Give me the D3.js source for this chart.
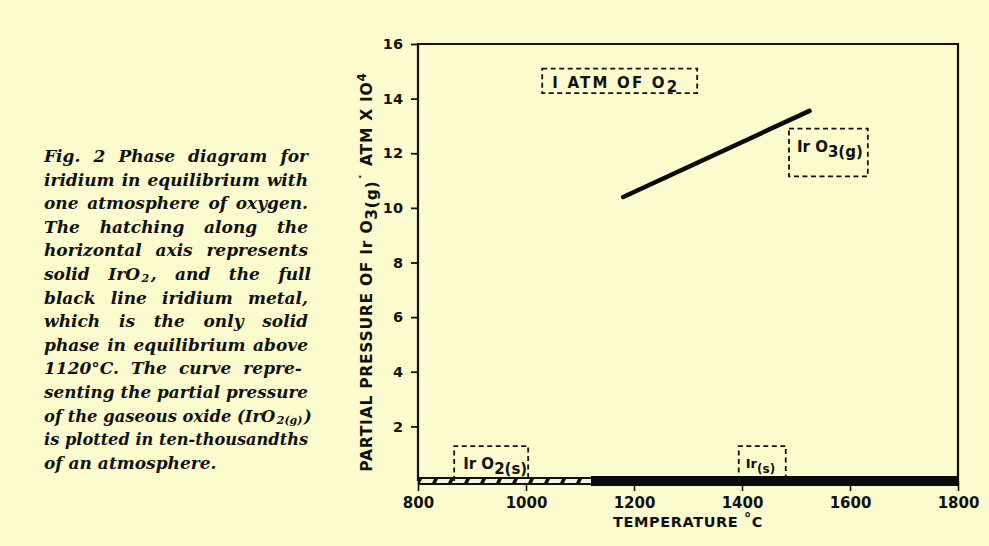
<!DOCTYPE html>
<html><head><meta charset="utf-8">
<script src="https://cdn.jsdelivr.net/npm/d3@7"></script>
<style>
html,body{margin:0;padding:0;background:#fcfbcd;}
svg{display:block;}
</style></head>
<body>
<script>
// ---- data ----
const xTicks = [800, 1000, 1200, 1400, 1600, 1800];
const yTicks = [2, 4, 6, 8, 10, 12, 14, 16];
const curveTemp = [1180, 1525];
const curvePressure = [10.4, 13.55];
const phaseLabels = ["IrO2(s)", "Ir(s)"];
const phaseStart = [800, 1120];
const phaseEnd = [1120, 1800];
// label boxes (data units): temperature range and pressure range
const boxNames = ["atm", "gas", "oxide", "metal"];
const boxT0 = [1030, 1487, 867, 1394];
const boxT1 = [1317, 1633, 1004, 1481];
const boxP0 = [14.2, 11.15, 0, 0];
const boxP1 = [15.1, 12.9, 1.28, 1.28];
const captionLines = [
  "Fig. 2 Phase diagram for",
  "iridium in equilibrium with",
  "one atmosphere of oxygen.",
  "The hatching along the",
  "horizontal axis represents",
  "solid IrO|2|, and the full",
  "black line iridium metal,",
  "which is the only solid",
  "phase in equilibrium above",
  "1120°C.  The curve repre-",
  "senting the partial pressure",
  "of the gaseous oxide (IrO|2(g)|)",
  "is plotted in ten-thousandths",
  "of an atmosphere."
];

const W = 989, H = 546;
const svg = d3.select("body").append("svg").attr("width", W).attr("height", H);
svg.append("rect").attr("width", W).attr("height", H).attr("fill", "#fcfbcd");

const m = {left: 418, right: 958, top: 44, bottom: 481};
const x = d3.scaleLinear().domain([800, 1800]).range([m.left, m.right]);
const y = d3.scaleLinear().domain([0, 16]).range([m.bottom, m.top]);

const sans = "'DejaVu Sans', sans-serif";

// hatch pattern
const defs = svg.append("defs");
const pat = defs.append("pattern").attr("id", "hatch").attr("patternUnits", "userSpaceOnUse")
  .attr("width", 16).attr("height", 8).attr("x", m.left).attr("y", 477);
pat.append("rect").attr("width", 16).attr("height", 8).attr("fill", "#111");
pat.append("polygon").attr("points", "4,2 16,2 14,6 2,6").attr("fill", "#f6f4e2");

// frame (left, top, right)
svg.append("path")
  .attr("d", `M${x(800)},${y(0)} L${x(800)},${y(16)} L${x(1800)},${y(16)} L${x(1800)},${y(0)}`)
  .attr("fill", "none").attr("stroke", "#111").attr("stroke-width", 2.2);

// y axis ticks
const yAxis = d3.axisLeft(y).tickValues(yTicks).tickSize(7).tickPadding(8).tickFormat(d3.format("d"));
const gy = svg.append("g").attr("transform", `translate(${m.left},0)`).call(yAxis);
gy.select(".domain").remove();
gy.selectAll("line").attr("stroke", "#111").attr("stroke-width", 1.8);
gy.selectAll("text").attr("font-family", sans).attr("font-weight", "bold").attr("font-size", 14.5).attr("fill", "#111");

// x axis ticks
const xAxis = d3.axisBottom(x).tickValues(xTicks).tickSize(10).tickPadding(6).tickFormat(d3.format("d"));
const gx = svg.append("g").attr("transform", `translate(0,${m.bottom})`).call(xAxis);
gx.select(".domain").remove();
gx.selectAll("line").attr("stroke", "#111").attr("stroke-width", 1.6);
gx.selectAll("text").attr("font-family", sans).attr("font-weight", "bold").attr("font-size", 15).attr("fill", "#111");

// phase bars on axis
svg.append("rect").attr("x", x(phaseStart[1])).attr("y", 476).attr("width", x(phaseEnd[1]) - x(phaseStart[1]))
  .attr("height", 10).attr("fill", "#0a0a0a");
svg.append("rect").attr("x", x(phaseStart[0])).attr("y", 477).attr("width", x(phaseEnd[0]) - x(phaseStart[0]))
  .attr("height", 8).attr("fill", "url(#hatch)");

// curve
const line = d3.line().x(d => x(d[0])).y(d => y(d[1]));
svg.append("path").datum(curveTemp.map((t, i) => [t, curvePressure[i]]))
  .attr("d", line).attr("fill", "none").attr("stroke", "#0a0a0a").attr("stroke-width", 4.5)
  .attr("stroke-linecap", "round");

// dashed boxes
boxNames.forEach((n, i) => {
  const x0 = x(boxT0[i]), x1 = x(boxT1[i]), y0 = y(boxP1[i]), y1 = y(boxP0[i]);
  const closed = boxP0[i] > 0;
  const d = closed
    ? `M${x0},${y0} L${x1},${y0} L${x1},${y1} L${x0},${y1} Z`
    : `M${x0},${y1} L${x0},${y0} L${x1},${y0} L${x1},${y1}`;
  svg.append("path").attr("d", d).attr("fill", "none").attr("stroke", "#111")
    .attr("stroke-width", 1.8).attr("stroke-dasharray", "5,3.5");
});

function label(tx, ty, parts, size, ls) {
  const t = svg.append("text").attr("x", tx).attr("y", ty).attr("font-family", sans)
    .attr("font-weight", "bold").attr("font-size", size).attr("fill", "#111")
    .attr("letter-spacing", ls || 0);
  parts.forEach(p => {
    const s = t.append("tspan").text(p.t);
    if (p.dy) s.attr("dy", p.dy);
    if (p.fs) s.attr("font-size", p.fs);
  });
  return t;
}
label(x(boxT0[0]) + 10, y(14.4), [{t: "I  ATM  OF  O"}, {t: "2", dy: 4}], 15, 2.2);
label(x(boxT0[1]) + 8, y(12.05), [{t: "Ir O"}, {t: "3(g)", dy: 5}], 15);
label(x(boxT0[2]) + 9, y(0.45), [{t: "Ir O"}, {t: "2(s)", dy: 5}], 15);
label(x(boxT0[3]) + 7, y(0.48), [{t: "Ir"}, {t: "(s)", dy: 5, fs: 12}], 13);

// axis titles
svg.append("text").attr("x", (x(800) + x(1800)) / 2).attr("y", 527).attr("text-anchor", "middle")
  .attr("font-family", sans).attr("font-weight", "bold").attr("font-size", 14.5).attr("fill", "#111")
  .attr("letter-spacing", 0.6)
  .call(t => { t.append("tspan").text("TEMPERATURE "); t.append("tspan").text("°").attr("dy", -4); t.append("tspan").text("C").attr("dy", 4); });

const yl = svg.append("text").attr("transform", `translate(372,272) rotate(-90)`)
  .attr("text-anchor", "middle").attr("font-family", sans).attr("font-weight", "bold")
  .attr("font-size", 15.5).attr("fill", "#111").attr("letter-spacing", 0.75);
yl.append("tspan").text("PARTIAL PRESSURE OF  Ir O");
yl.append("tspan").text("3(g)").attr("dy", 5);
yl.append("tspan").text("\u02D9 ATM X IO").attr("dy", -5);
yl.append("tspan").text("4").attr("dy", -6).attr("font-size", 12);

// caption (justified by word spacing)
const capLeft = 44, capRight = 308, capTop = 162, capStep = 23.6;
captionLines.forEach((ln, i) => {
  const baseSize = 17;
  const t = svg.append("text").attr("x", capLeft).attr("y", capTop + i * capStep)
    .attr("font-family", "'DejaVu Serif', serif").attr("font-style", "italic")
    .attr("font-weight", "bold").attr("font-size", baseSize).attr("fill", "#111");
  const parts = ln.split("|");
  parts.forEach((p, k) => {
    const s = t.append("tspan").text(p);
    if (k % 2 === 1) s.attr("dy", 2).attr("font-size", 11).attr("dx", 1.5);
    else if (k > 0) s.attr("dy", -2).attr("dx", 1.5);
  });
  const target = capRight - capLeft;
  let w = t.node().getComputedTextLength();
  if (w > target) {
    t.attr("font-size", baseSize * target / w);
    w = t.node().getComputedTextLength();
  }
  if (i < captionLines.length - 1 && w < target) {
    const spaces = (ln.match(/ /g) || []).length;
    if (spaces > 0) t.attr("word-spacing", (target - w) / spaces);
  }
});
</script>
</body></html>
